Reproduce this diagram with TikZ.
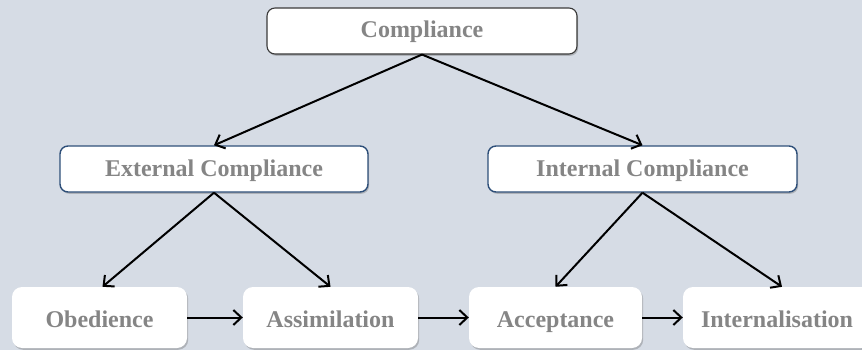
\documentclass[tikz,border=0pt]{standalone}
\usepackage{fontspec}
\setmainfont{Liberation Serif}
\usetikzlibrary{arrows.meta,shadows}
\definecolor{bgcol}{HTML}{D6DCE5}
\definecolor{txtgray}{HTML}{858585}
\definecolor{bluebord}{HTML}{2E4F79}
\definecolor{darkbord}{HTML}{3A3A3A}
\tikzset{
  box/.style={fill=white, rounded corners=8pt, inner sep=0pt,
    text=txtgray, font=\fontsize{24}{28}\selectfont\bfseries,
    text height=16pt, text depth=2pt,
    drop shadow={shadow xshift=1.2pt, shadow yshift=-1.8pt, opacity=0.35, fill=black!60}},
  topbox/.style={box, draw=darkbord, line width=1.1pt, minimum width=310pt, minimum height=46pt},
  midbox/.style={box, draw=bluebord, line width=1.4pt, minimum width=308pt, minimum height=46pt},
  stagebox/.style={box, rounded corners=10pt, minimum width=175pt, minimum height=61pt,
    text height=20pt, text depth=0pt},
  link/.style={draw=black, line width=2pt, -{Straight Barb[length=8pt,width=15pt,line width=2pt]}}
}
\begin{document}
\begin{tikzpicture}[x=1pt,y=-1pt]
  \fill[bgcol] (0,0) rectangle (862,350);
  \useasboundingbox (0,0) rectangle (862,350);
  \begin{scope}
    \clip (0,0) rectangle (862,350);
    \node[topbox] (comp) at (422,31) {Compliance};
    \node[midbox] (ext) at (214,169) {External Compliance};
    \node[midbox, minimum width=309pt] (int) at (642.5,169) {Internal Compliance};
    \node[stagebox] (obed) at (99.5,317.5) {Obedience};
    \node[stagebox] (assim) at (330.5,317.5) {Assimilation};
    \node[stagebox, minimum width=173pt] (accept) at (555.5,317.5) {Acceptance};
    \node[stagebox, minimum width=188pt] (intern) at (777,317.5) {Internalisation};
  \end{scope}
  \draw[link] (comp.south) -- (ext.north);
  \draw[link] (comp.south) -- (int.north);
  \draw[link] (ext.south) -- ([xshift=3pt]obed.north);
  \draw[link] (ext.south) -- (assim.north);
  \draw[link] (int.south) -- (accept.north);
  \draw[link] (int.south) -- ([xshift=5pt]intern.north);
  \draw[link] (obed.east) -- (assim.west);
  \draw[link] (assim.east) -- (accept.west);
  \draw[link] (accept.east) -- (intern.west);
\end{tikzpicture}
\end{document}
